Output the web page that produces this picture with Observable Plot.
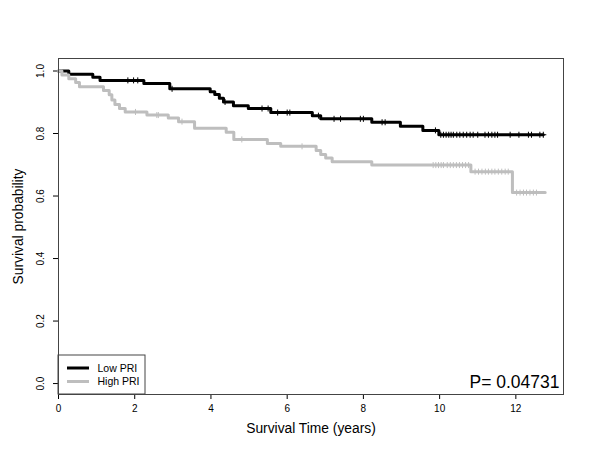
<!DOCTYPE html>
<html>
<head>
<meta charset="utf-8">
<script src="https://cdn.jsdelivr.net/npm/d3@7"></script>
<script src="https://cdn.jsdelivr.net/npm/@observablehq/plot@0.6"></script>
<style>
  html, body { margin: 0; padding: 0; background: #fff; }
  #chart svg { display: block; font-family: "Liberation Sans", Arial, sans-serif; }
</style>
</head>
<body>
<div id="chart"></div>
<script>
// ---- Data ----
const groups = ["Low PRI", "High PRI"];
const groupColors = ["#000000", "#bebebe"];

// Low PRI: step times (years) and survival after each step
const lowTimes = [0, 0.27, 0.90, 1.09, 2.24, 2.92, 3.98, 4.10, 4.22, 4.33, 4.59, 4.98, 5.57, 6.66, 6.88, 8.22, 8.97, 9.56, 9.98, 12.72];
const lowSurv  = [1.0, 0.990, 0.980, 0.970, 0.960, 0.943, 0.934, 0.925, 0.913, 0.901, 0.889, 0.880, 0.867, 0.857, 0.847, 0.836, 0.823, 0.810, 0.796, 0.796];
const lowCensor = [1.82, 1.97, 2.08, 2.98, 4.37, 5.34, 5.50, 5.75, 6.00, 6.07, 6.82, 7.23, 7.40, 7.92, 8.00, 8.49, 8.57, 9.89,
  10.03, 10.10, 10.17, 10.24, 10.30, 10.36, 10.45, 10.53, 10.62, 10.71, 10.80, 10.88, 11.00, 11.19, 11.28, 11.37, 11.45, 11.52,
  11.85, 12.08, 12.33, 12.41, 12.63, 12.72];

// High PRI
const highTimes = [0, 0.09, 0.27, 0.45, 0.55, 1.18, 1.33, 1.40, 1.48, 1.60, 1.75, 2.32, 2.88, 3.15, 3.57, 4.40, 4.60, 5.48, 5.83, 6.76, 6.88, 7.01, 7.18, 8.22, 10.82, 11.91, 12.77];
const highSurv  = [1.0, 0.987, 0.975, 0.963, 0.950, 0.938, 0.924, 0.907, 0.893, 0.880, 0.869, 0.859, 0.850, 0.838, 0.817, 0.804, 0.781, 0.768, 0.759, 0.746, 0.733, 0.722, 0.710, 0.699, 0.678, 0.611, 0.611];
const highCensor = [2.02, 2.58, 2.62, 3.24, 4.81, 6.39,
  9.83, 9.90, 9.97, 10.04, 10.10, 10.20, 10.28, 10.36, 10.44, 10.52, 10.60, 10.68, 10.76,
  10.93, 11.02, 11.11, 11.20, 11.28, 11.37, 11.45, 11.54, 11.63, 11.72, 11.80,
  12.02, 12.11, 12.20, 12.28, 12.37, 12.46, 12.54];

const xTicks = [0, 2, 4, 6, 8, 10, 12];
const yTicks = [0, 0.2, 0.4, 0.6, 0.8, 1.0];
const xLabel = "Survival Time (years)";
const yLabel = "Survival probability";
const pValueText = "P= 0.04731";

// ---- Build tables ----
function steps(times, surv, group) {
  return times.map((t, i) => ({t, s: surv[i], group}));
}
function survAt(times, surv, t) {
  let s = surv[0];
  for (let i = 0; i < times.length; i++) if (times[i] <= t) s = surv[i];
  return s;
}
const curves = [...steps(lowTimes, lowSurv, groups[0]), ...steps(highTimes, highSurv, groups[1])];
const censors = [
  ...lowCensor.map(t => ({t, s: survAt(lowTimes, lowSurv, t), group: groups[0]})),
  ...highCensor.map(t => ({t, s: survAt(highTimes, highSurv, t), group: groups[1]}))
];

const legendMark = (index, scales, values, dims) => {
  const g = d3.create("svg:g");
  const x0 = dims.marginLeft, yb = dims.height - dims.marginBottom;
  g.append("rect").attr("x", x0).attr("y", yb - 39).attr("width", 87).attr("height", 39)
    .attr("fill", "#fff").attr("stroke", "#444");
  groups.forEach((name, i) => {
    const y = yb - 26 + i * 13.5;
    g.append("line").attr("x1", x0 + 9).attr("x2", x0 + 31).attr("y1", y).attr("y2", y)
      .attr("stroke", groupColors[i]).attr("stroke-width", 3);
    g.append("text").attr("x", x0 + 39.5).attr("y", y).attr("dy", "0.35em")
      .attr("text-anchor", "start")
      .attr("font-size", 10.5).attr("fill", "#000").text(name);
  });
  return g.node();
};

const chart = Plot.plot({
  width: 600,
  height: 464,
  marginLeft: 58,
  marginRight: 37,
  marginTop: 58,
  marginBottom: 70,
  style: {background: "#fff", fontFamily: "Liberation Sans, Arial, sans-serif"},
  x: {domain: [0, 13.25]},
  y: {domain: [-0.035, 1.04]},
  color: {domain: groups, range: groupColors},
  marks: [
    Plot.axisX({ticks: xTicks, tickSize: 5, tickPadding: 5, fontSize: 10, label: null}),
    Plot.axisY({ticks: yTicks, tickSize: 5, tickFormat: () => "", label: null}),
    Plot.text(yTicks, {y: d => d, text: d => d3.format(".1f")(d), frameAnchor: "left", textAnchor: "middle", lineAnchor: "middle", dx: -18, rotate: -90, fontSize: 10, fill: "#000"}),
    Plot.text([xLabel], {text: d => d, frameAnchor: "bottom", textAnchor: "middle", lineAnchor: "middle", dy: 34, fontSize: 13.8, fill: "#000"}),
    Plot.text([yLabel], {text: d => d, frameAnchor: "left", textAnchor: "middle", lineAnchor: "middle", dx: -40, rotate: -90, fontSize: 13.8, fill: "#000"}),
    Plot.line(curves, {x: "t", y: "s", z: "group", stroke: "group", curve: "step-after", strokeWidth: 3}),
    Plot.dot(censors, {x: "t", y: "s", stroke: "group", symbol: "plus", r: 2.1, strokeWidth: 1}),
    legendMark,
    Plot.text([pValueText], {text: d => d, frameAnchor: "bottom-right", textAnchor: "end", lineAnchor: "middle", dx: -4, dy: -12, fontSize: 17.5, fill: "#000"}),
    Plot.frame({stroke: "#444"})
  ]
});
document.getElementById("chart").appendChild(chart);
</script>
</body>
</html>
